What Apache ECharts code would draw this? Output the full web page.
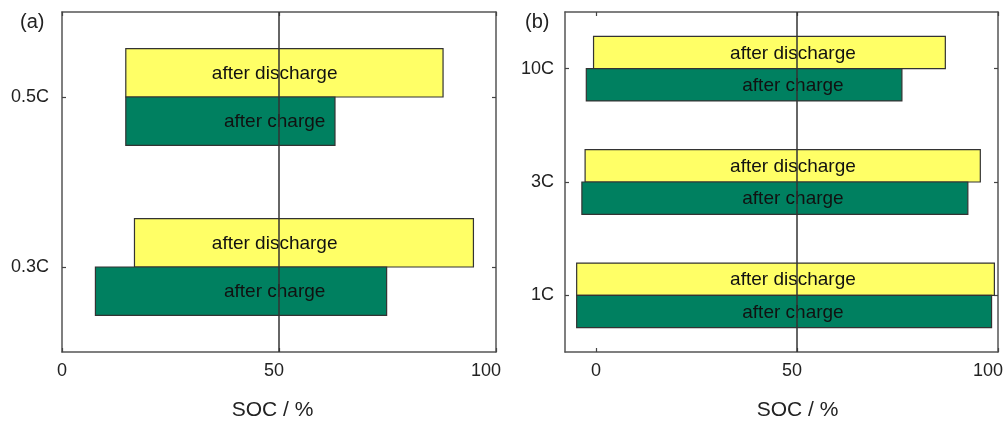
<!DOCTYPE html>
<html>
<head>
<meta charset="utf-8">
<script src="https://cdn.jsdelivr.net/npm/echarts@6/dist/echarts.min.js"></script>
<style>html,body{margin:0;padding:0;background:#fff}#c{width:1006px;height:422px}</style>
</head>
<body>
<div id="c"></div>
<script>
// ---- data ----
const catsA = ['0.3C', '0.5C'];
const dischargeStartA = [16.7, 14.7];
const dischargeEndA   = [94.8, 87.8];
const chargeStartA    = [7.7, 14.7];
const chargeEndA      = [74.8, 62.9];

const catsB = ['1C', '3C', '10C'];
const dischargeStartB = [-4.8, -2.7, -0.6];
const dischargeEndB   = [99.1, 95.6, 86.9];
const chargeStartB    = [-4.8, -3.5, -2.4];
const chargeEndB      = [98.4, 92.5, 76.1];

const xTickValues = [0, 50, 100];
const refLineValue = 50;
const axisTitle = 'SOC / %';
const panelLabels = ['(a)', '(b)'];
const labelDischarge = 'after discharge';
const labelCharge = 'after charge';

// ---- styling ----
const FONT = 'Arial, "Liberation Sans", Helvetica, sans-serif';
const YELLOW = '#ffff66';
const GREEN = '#008060';
const LABEL_X = 49;
const BAR_FRAC = 0.285;

function rows(starts, ends) {
  return starts.map((s, i) => [i, s, ends[i]]);
}

function makeRender(text, color, upper) {
  return function (params, api) {
    const cat = api.value(0);
    const s = api.value(1);
    const e = api.value(2);
    const p0 = api.coord([s, cat]);
    const p1 = api.coord([e, cat]);
    const band = api.size([0, 1])[1];
    const h = band * BAR_FRAC;
    const y = upper ? p0[1] - h : p0[1];
    const pl = api.coord([LABEL_X, cat]);
    return {
      type: 'group',
      children: [
        { type: 'rect', shape: { x: p0[0], y: y, width: p1[0] - p0[0], height: h },
          style: { fill: color, stroke: '#333', lineWidth: 1.2 } },
        { type: 'text', z2: 20, style: { text: text, x: pl[0], y: y + h / 2 + 1, align: 'center', verticalAlign: 'middle',
          font: '19px ' + FONT, fill: '#111' } }
      ]
    };
  };
}

const tickStyle = { show: true, inside: true, length: 4, lineStyle: { color: '#444', width: 1.2 } };
const lineStyleAxis = { show: true, onZero: false, lineStyle: { color: '#555', width: 1.5 } };

function xAxes(gridIndex, min) {
  const isCustom = min !== 0;
  const base = {
    type: 'value', gridIndex: gridIndex, min: min, max: 100,
    axisLine: lineStyleAxis, splitLine: { show: false }
  };
  const bottom = Object.assign({}, base, {
    position: 'bottom',
    axisTick: Object.assign({}, tickStyle, isCustom ? { customValues: xTickValues } : {}),
    axisLabel: Object.assign({
      show: true, inside: false, margin: 10, fontSize: 18, fontFamily: FONT, color: '#222',
      align: 'right', padding: [0, -5, 0, 0]
    }, isCustom ? { customValues: xTickValues } : {})
  });
  if (!isCustom) bottom.interval = 50;
  const top = Object.assign({}, base, {
    position: 'top',
    axisTick: Object.assign({}, tickStyle, isCustom ? { customValues: xTickValues } : {}),
    axisLabel: { show: false }
  });
  if (!isCustom) top.interval = 50;
  return [bottom, top];
}

function yAxes(gridIndex, cats, margin) {
  const base = {
    type: 'category', gridIndex: gridIndex, data: cats, boundaryGap: true,
    axisLine: lineStyleAxis, splitLine: { show: false },
    axisTick: Object.assign({}, tickStyle, { alignWithLabel: true })
  };
  return [
    Object.assign({}, base, { position: 'left',
      axisLabel: { show: true, inside: false, margin: margin, fontSize: 18, fontFamily: FONT, color: '#222' } }),
    Object.assign({}, base, { position: 'right', axisLabel: { show: false } })
  ];
}

const markLineCfg = {
  silent: true, symbol: 'none', label: { show: false }, animation: false,
  lineStyle: { color: '#333', width: 1.5, type: 'solid' },
  data: [{ xAxis: refLineValue }]
};

const option = {
  animation: false,
  grid: [
    { left: 62, right: 510, top: 12, bottom: 70, show: false },
    { left: 565, right: 7, top: 12, bottom: 70, show: false }
  ],
  xAxis: [].concat(xAxes(0, 0), xAxes(1, -7.7)),
  yAxis: [].concat(yAxes(0, catsA, 13), yAxes(1, catsB, 11)),
  series: [
    { type: 'custom', xAxisIndex: 0, yAxisIndex: 0, encode: { x: [1, 2], y: 0 },
      renderItem: makeRender(labelDischarge, YELLOW, true), data: rows(dischargeStartA, dischargeEndA), z: 2 },
    { type: 'custom', xAxisIndex: 0, yAxisIndex: 0, encode: { x: [1, 2], y: 0 },
      renderItem: makeRender(labelCharge, GREEN, false), data: rows(chargeStartA, chargeEndA), z: 2,
      markLine: markLineCfg },
    { type: 'custom', xAxisIndex: 2, yAxisIndex: 2, encode: { x: [1, 2], y: 0 },
      renderItem: makeRender(labelDischarge, YELLOW, true), data: rows(dischargeStartB, dischargeEndB), z: 2 },
    { type: 'custom', xAxisIndex: 2, yAxisIndex: 2, encode: { x: [1, 2], y: 0 },
      renderItem: makeRender(labelCharge, GREEN, false), data: rows(chargeStartB, chargeEndB), z: 2,
      markLine: markLineCfg }
  ],
  graphic: [
    { type: 'text', left: 20, top: 12, style: { text: panelLabels[0], font: '20px ' + FONT, fill: '#222' } },
    { type: 'text', left: 525, top: 12, style: { text: panelLabels[1], font: '20px ' + FONT, fill: '#222' } },
    { type: 'text', x: 272.5, y: 410, style: { text: axisTitle, font: '21px ' + FONT, fill: '#222', align: 'center', verticalAlign: 'middle' } },
    { type: 'text', x: 797.5, y: 410, style: { text: axisTitle, font: '21px ' + FONT, fill: '#222', align: 'center', verticalAlign: 'middle' } }
  ]
};

const chart = echarts.init(document.getElementById('c'), null, { renderer: 'canvas' });
chart.setOption(option);
</script>
</body>
</html>
